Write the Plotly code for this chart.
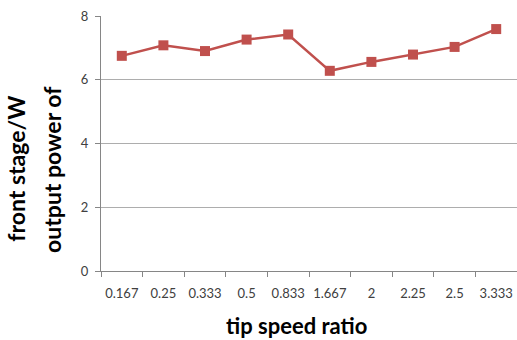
import plotly.graph_objects as go

# tip speed ratio categories and measured front-stage output power (W)
ratios = ["0.167", "0.25", "0.333", "0.5", "0.833", "1.667", "2", "2.25", "2.5", "3.333"]
power = [6.75, 7.08, 6.90, 7.26, 7.42, 6.28, 6.56, 6.79, 7.03, 7.59]
y_ticks = [0, 2, 4, 6, 8]

red = "#C0504D"
axis_grey = "#868686"
font = "Lato, 'Open Sans', sans-serif"

fig = go.Figure(
    go.Scatter(
        x=ratios,
        y=power,
        mode="lines+markers",
        line=dict(color=red, width=2.5),
        marker=dict(symbol="square", size=10, color=red),
    )
)

fig.update_layout(
    width=517,
    height=340,
    margin=dict(l=101, r=0, t=16, b=69),
    plot_bgcolor="white",
    paper_bgcolor="white",
    showlegend=False,
    font=dict(family=font, color="#404040", size=12),
    xaxis=dict(
        type="category",
        showgrid=False,
        showline=True,
        linecolor=axis_grey,
        linewidth=1,
        ticks="outside",
        tickson="boundaries",
        ticklen=5,
        tickcolor=axis_grey,
        tickangle=0,
        ticklabelstandoff=10,
        tickfont=dict(size=13, color="#404040"),
        range=[-0.5, 9.5],
    ),
    yaxis=dict(
        range=[0, 8],
        tickvals=y_ticks,
        showgrid=True,
        gridcolor="#ADADAD",
        gridwidth=1,
        showline=True,
        linecolor=axis_grey,
        ticks="outside",
        ticklen=5,
        tickcolor=axis_grey,
        ticklabelstandoff=4,
        tickfont=dict(size=13, color="#404040"),
        zeroline=False,
    ),
    annotations=[
        dict(
            text="<b>output power of</b>",
            textangle=-90,
            xref="paper",
            yref="paper",
            x=-0.118,
            y=0.40,
            xanchor="center",
            yanchor="middle",
            showarrow=False,
            font=dict(size=23, color="black", family=font),
        ),
        dict(
            text="<b>front stage/W</b>",
            textangle=-90,
            xref="paper",
            yref="paper",
            x=-0.205,
            y=0.40,
            xanchor="center",
            yanchor="middle",
            showarrow=False,
            font=dict(size=23, color="black", family=font),
        ),
        dict(
            text="<b>tip speed ratio</b>",
            xref="paper",
            yref="paper",
            x=0.469,
            y=-0.215,
            xanchor="center",
            yanchor="middle",
            showarrow=False,
            font=dict(size=22, color="black", family=font),
        ),
    ],
)

fig.write_html("out.html")
